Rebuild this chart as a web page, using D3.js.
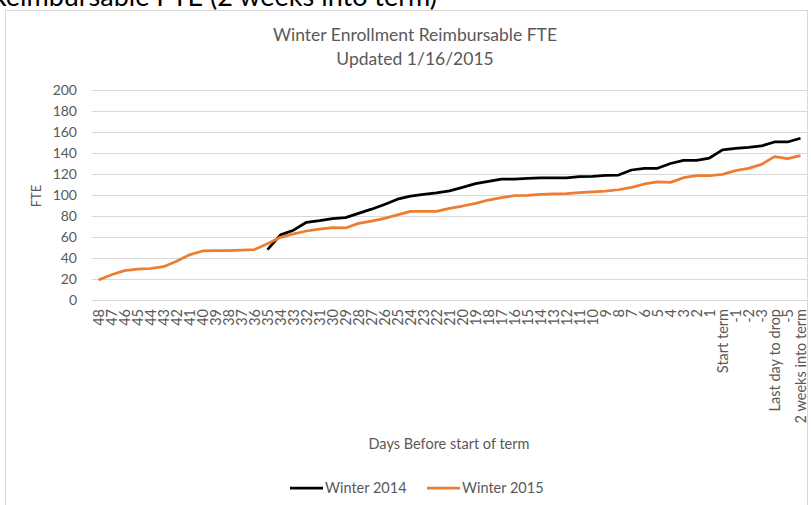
<!DOCTYPE html>
<html>
<head>
<meta charset="utf-8">
<script src="https://cdn.jsdelivr.net/npm/d3@7"></script>
<style>
  body { margin: 0; background: #fff; }
  text { font-family: Lato, "Open Sans", sans-serif; fill: #595959; }
</style>
</head>
<body>
<div id="visualisation"></div>
<script>
// categories on the x axis (days before start of term)
var categories = ["48","47","46","45","44","43","42","41","40","39","38","37","36","35","34","33","32","31","30","29","28","27","26","25","24","23","22","21","20","19","18","17","16","15","14","13","12","11","10","9","8","7","6","5","4","3","2","1","Start term","-1","-2","-3","Last day to drop","-5","2 weeks into term"];

// Winter 2014 only starts at day 35
var winter2014 = [null,null,null,null,null,null,null,null,null,null,null,null,null,
  48,62,66.5,74,75.5,77.5,78.5,82.5,86.5,91,96,99,100.5,102,104,107.3,110.8,113,115.2,115.2,115.9,116.2,116.2,116.2,117.5,117.8,118.7,119,
  123.8,125.4,125.4,130,133,133,135.2,142.9,144.4,145.4,146.7,150.5,150.5,154];

var winter2015 = [19,24,28,29.5,30,31.7,37,43,46.7,47,47,47.6,48,53.5,59.7,62.9,65.7,67.6,68.9,68.6,73,75.2,77.8,81,84.4,84.4,84.4,87.3,89.5,92,95.2,97.5,99.4,99.7,100.6,101,101.3,102.2,102.9,103.8,105,
  107.3,110.5,112.4,112,116.5,118.4,118.4,119.7,123.2,125.4,129.2,136.5,134.6,137.5];

var yTicks = [0,20,40,60,80,100,120,140,160,180,200];

var seriesNames = ["Winter 2014", "Winter 2015"];
var seriesColors = ["#000000", "#ed7d31"];

var width = 811, height = 505;
var plot = {left: 92, right: 807, top: 90, bottom: 300};

var svg = d3.select("#visualisation")
    .append("svg")
    .attr("width", width)
    .attr("height", height);

// clipped heading from the page above the chart
svg.append("text")
    .attr("x", 437)
    .attr("y", 6)
    .attr("text-anchor", "end")
    .style("font-size", "27px")
    .style("fill", "#000")
    .text("Reimbursable FTE (2 weeks into term)");

// chart border
svg.append("rect")
    .attr("x", 5.5).attr("y", 10.5)
    .attr("width", 802).attr("height", 520)
    .attr("fill", "#fff")
    .attr("stroke", "#d9d9d9");

var xScale = d3.scaleBand().domain(categories).range([plot.left, plot.right]);
var yScale = d3.scaleLinear().domain([0, 200]).range([plot.bottom, plot.top]);
var xPos = d => xScale(d) + xScale.bandwidth() / 2;

// gridlines + y labels
var yAxis = d3.axisLeft(yScale).tickValues(yTicks).tickSize(-(plot.right - plot.left)).tickPadding(15);
svg.append("g")
    .attr("transform", `translate(${plot.left},0)`)
    .call(yAxis)
    .call(g => g.select(".domain").remove())
    .call(g => g.selectAll("line").attr("stroke", "#d9d9d9"))
    .call(g => g.selectAll("text").style("font-size", "14px").style("fill", "#595959").style("font-family", "Lato"));

// x labels, rotated
var xAxis = d3.axisBottom(xScale).tickSize(0).tickPadding(0);
svg.append("g")
    .attr("transform", `translate(0,${plot.bottom})`)
    .call(xAxis)
    .call(g => g.select(".domain").attr("stroke", "#d9d9d9"))
    .call(g => g.selectAll("text")
        .attr("transform", "rotate(-90)")
        .attr("x", -9)
        .attr("y", 0)
        .attr("dy", "0.35em")
        .attr("text-anchor", "end")
        .style("font-size", "14.5px")
        .style("fill", "#595959")
        .style("font-family", "Lato"));

// lines
var line = d3.line()
    .defined(d => d.v != null)
    .x(d => xPos(d.c))
    .y(d => yScale(d.v));

[winter2014, winter2015].forEach((vals, i) => {
    svg.append("path")
        .datum(categories.map((c, j) => ({c: c, v: vals[j]})))
        .attr("fill", "none")
        .attr("stroke", seriesColors[i])
        .attr("stroke-width", 2.75)
        .attr("stroke-linejoin", "round")
        .attr("d", line);
});

// titles
svg.append("text")
    .attr("x", 415).attr("y", 41)
    .attr("text-anchor", "middle")
    .style("font-size", "17.5px")
    .text("Winter Enrollment Reimbursable FTE");
svg.append("text")
    .attr("x", 415).attr("y", 65)
    .attr("text-anchor", "middle")
    .style("font-size", "17.5px")
    .text("Updated 1/16/2015");

svg.append("text")
    .attr("transform", "translate(41,196) rotate(-90)")
    .attr("text-anchor", "middle")
    .style("font-size", "13px")
    .text("FTE");

svg.append("text")
    .attr("x", 449).attr("y", 449)
    .attr("text-anchor", "middle")
    .style("font-size", "14.5px")
    .text("Days Before start of term");

// legend
var legendX = [290, 427];
seriesNames.forEach((name, i) => {
    var g = svg.append("g").attr("transform", `translate(${legendX[i]},488)`);
    g.append("line")
        .attr("x1", 0).attr("x2", 33)
        .attr("stroke", seriesColors[i])
        .attr("stroke-width", 2.75);
    g.append("text")
        .attr("x", 35).attr("y", 5)
        .style("font-size", "14.5px")
        .text(name);
});
</script>
</body>
</html>
